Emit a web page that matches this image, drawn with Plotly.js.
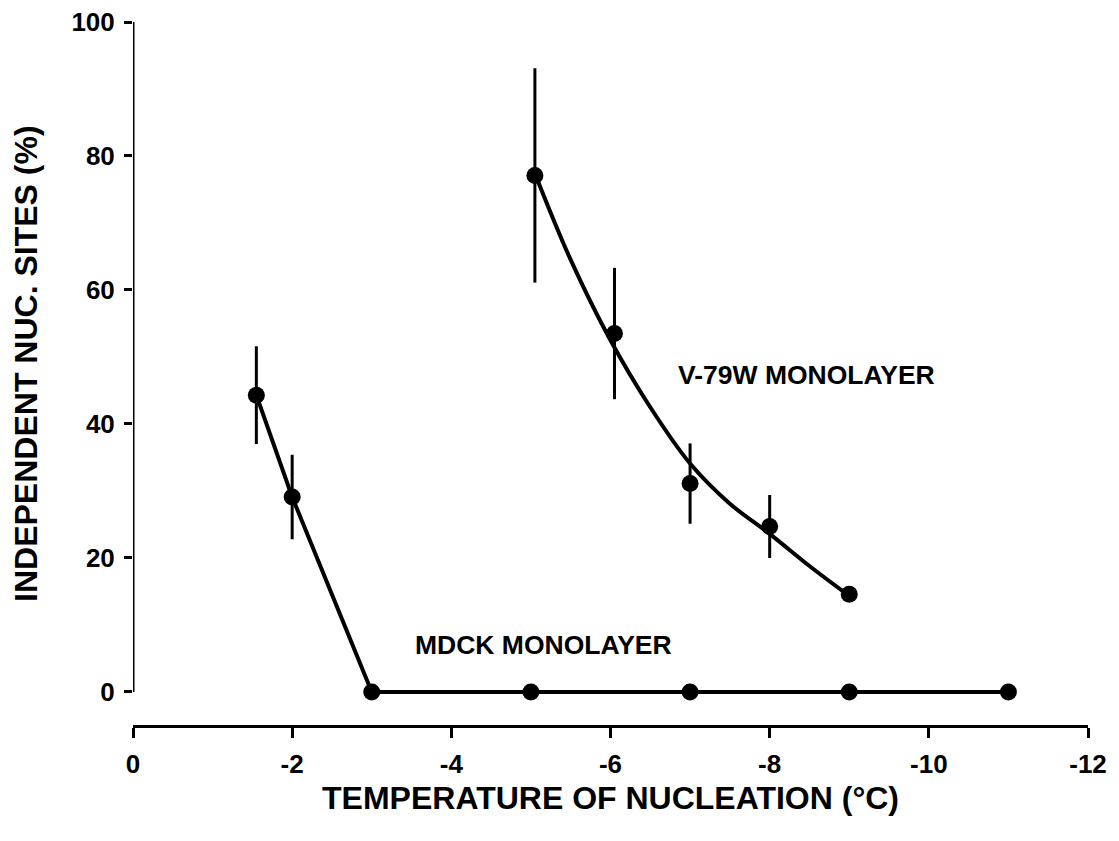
<!DOCTYPE html>
<html>
<head>
<meta charset="utf-8">
<script src="https://cdn.plot.ly/plotly-3.0.1.min.js"></script>
<style>html,body{margin:0;padding:0;background:#fff;}#chart{width:1119px;height:841px;}</style>
</head>
<body>
<div id="chart"></div>
<script>
// MDCK monolayer data
const mdckTemp = [-1.55, -2, -3, -5, -7, -9, -11];
const mdckPct = [44.3, 29.1, 0, 0, 0, 0, 0];
const mdckErr = [7.3, 6.3, null, null, null, null, null];

// V-79W monolayer data
const v79Temp = [-5.05, -6.05, -7, -8, -9];
const v79Pct = [77.1, 53.5, 31.1, 24.7, 14.6];
const v79Err = [16, 9.8, 6, 4.7, null];

// Fitted curve for V-79W
const fitTemp = [-5.07, -5.5, -6, -6.5, -7, -7.5, -8, -8.5, -8.97];
const fitPct = [76.8, 64.5, 52.5, 42.5, 34.1, 28.1, 23.6, 18.8, 14.6];

// Axis ticks
const xTickVals = [0, -2, -4, -6, -8, -10, -12];
const xTickText = ['0', '-2', '-4', '-6', '-8', '-10', '-12'];
const yTickVals = [0, 20, 40, 60, 80, 100];
const yMin = 0, yMax = 100;

const FONT = '"Liberation Sans", Arial, Helvetica, sans-serif';

const traces = [
  {
    x: fitTemp, y: fitPct, type: 'scatter', mode: 'lines',
    line: {color: '#000', width: 4, shape: 'spline', smoothing: 1},
    cliponaxis: false, hoverinfo: 'skip', showlegend: false
  },
  {
    x: mdckTemp, y: mdckPct, type: 'scatter', mode: 'lines+markers',
    line: {color: '#000', width: 4},
    marker: {color: '#000', size: 17},
    error_y: {type: 'data', array: mdckErr, visible: true, color: '#000', thickness: 3, width: 0},
    cliponaxis: false, showlegend: false, name: 'MDCK MONOLAYER'
  },
  {
    x: v79Temp, y: v79Pct, type: 'scatter', mode: 'markers',
    marker: {color: '#000', size: 17},
    error_y: {type: 'data', array: v79Err, visible: true, color: '#000', thickness: 3, width: 0},
    cliponaxis: false, showlegend: false, name: 'V-79W MONOLAYER'
  }
];

const layout = {
  width: 1119, height: 841,
  paper_bgcolor: '#fff', plot_bgcolor: '#fff',
  margin: {l: 133, r: 31, t: 22, b: 115},
  showlegend: false,
  font: {family: FONT, color: '#000', size: 25, weight: 'bold'},
  xaxis: {
    range: [0, -12], anchor: 'free', position: 0,
    showline: true, linecolor: '#000', linewidth: 3,
    showgrid: false, zeroline: false,
    ticks: 'outside', ticklen: 10, tickwidth: 3, tickcolor: '#000',
    tickvals: xTickVals, ticktext: xTickText,
    tickfont: {family: FONT, size: 26, color: '#000', weight: 'bold'},
    ticklabelstandoff: 4,
    title: {text: 'TEMPERATURE OF NUCLEATION (°C)', standoff: 8,
            font: {family: FONT, size: 32, color: '#000', weight: 'bold'}}
  },
  yaxis: {
    range: [-2, 100], domain: [0.0293, 1],
    showline: false,
    showgrid: false, zeroline: false,
    ticks: 'outside', ticklen: 8, tickwidth: 3, tickcolor: '#000',
    tickvals: yTickVals,
    tickfont: {family: FONT, size: 26, color: '#000', weight: 'bold'},
    ticklabelstandoff: 4,
    title: {text: 'INDEPENDENT NUC. SITES (%)', standoff: 24,
            font: {family: FONT, size: 32, color: '#000', weight: 'bold'}}
  },
  shapes: [
    {type: 'line', xref: 'x', yref: 'y', x0: 0, x1: 0, y0: yMin, y1: yMax,
     line: {color: '#000', width: 3}, layer: 'above'}
  ],
  annotations: [
    {x: -6.82, y: 47.3, xref: 'x', yref: 'y', text: 'V-79W MONOLAYER', showarrow: false,
     xanchor: 'left', yanchor: 'middle', font: {family: FONT, size: 26.5, color: '#000', weight: 'bold'}},
    {x: -3.52, y: 7.0, xref: 'x', yref: 'y', text: 'MDCK MONOLAYER', showarrow: false,
     xanchor: 'left', yanchor: 'middle', font: {family: FONT, size: 26.5, color: '#000', weight: 'bold'}}
  ]
};

Plotly.newPlot('chart', traces, layout, {displayModeBar: false, staticPlot: true});
</script>
</body>
</html>
